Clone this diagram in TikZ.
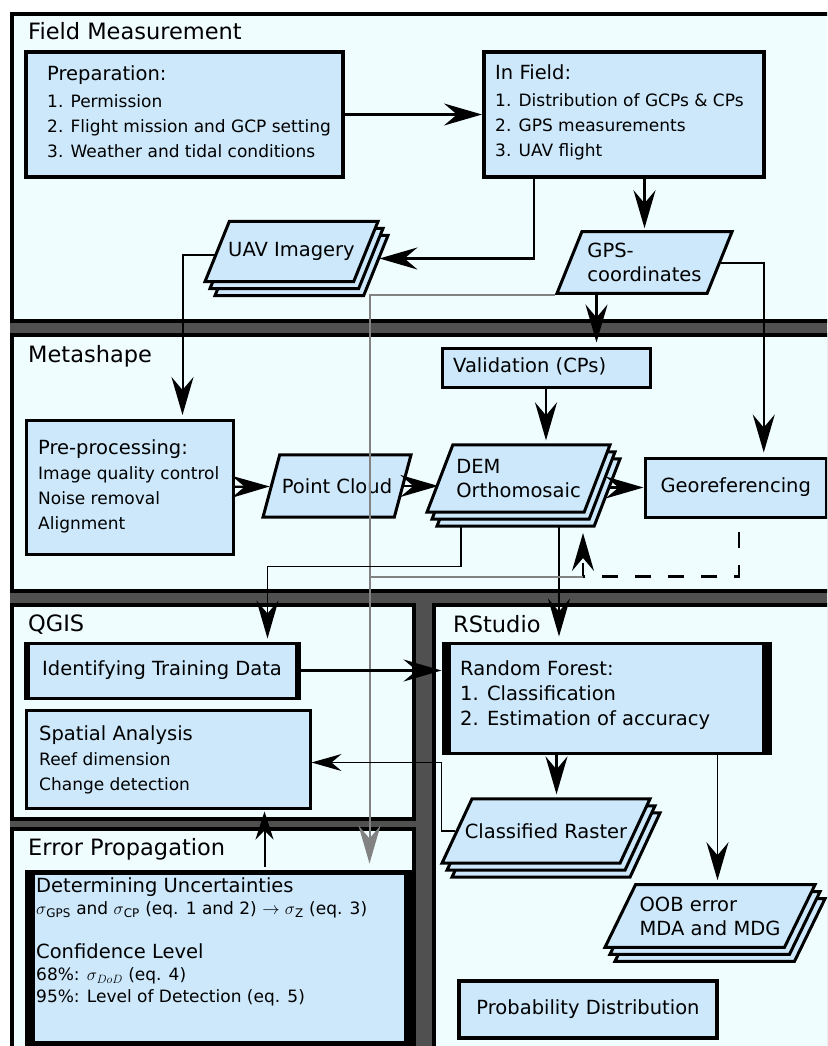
\documentclass[tikz,border=0pt]{standalone}
\usepackage{fontspec}
\setmainfont{DejaVu Sans}
\usetikzlibrary{arrows.meta,shapes.geometric,shadows}
\definecolor{panelbg}{RGB}{240,253,255}
\definecolor{boxbg}{RGB}{204,232,250}
\definecolor{bandgray}{RGB}{80,80,80}
\definecolor{linegray}{RGB}{130,130,130}
\tikzset{
  panel/.style={draw=black, line width=4pt, fill=panelbg},
  paneltitle/.style={anchor=base west, inner sep=0pt, font=\fontsize{22.5}{27}\selectfont},
  box/.style={draw=black, line width=3pt, fill=boxbg, inner sep=0pt, anchor=north west, font=\fontsize{19.5}{25}\selectfont},
  boxtext/.style={anchor=west, inner sep=0pt, align=left, font=\fontsize{17}{25}\selectfont},
  sidebars/.style={path picture={
    \fill[black] (path picture bounding box.south west) rectangle ([xshift=#1]path picture bounding box.north west);
    \fill[black] (path picture bounding box.south east) rectangle ([xshift=-#1]path picture bounding box.north east);}},
  para/.style 2 args={trapezium, trapezium left angle=#1, trapezium right angle=#2,
    trapezium stretches=true, trapezium stretches body=true,
    draw=black, line width=3pt, fill=boxbg, inner xsep=0pt, align=left, font=\fontsize{19.5}{24}\selectfont},
  stack/.style={double copy shadow={shadow xshift=5pt, shadow yshift=-7pt}},
  arr/.style={-{Stealth[length=38pt,width=22pt,inset=13pt]}, line width=2.2pt},
  arrthin/.style={-{Stealth[length=30pt,width=17pt,inset=10pt]}, line width=1.6pt},
  grayline/.style={draw=linegray, line width=2pt}
}
\begin{document}
\begin{tikzpicture}[x=1pt, y=-1pt]
\clip (0,0) rectangle (827,1046);
\fill[white] (0,0) rectangle (827,1046);
\fill[bandgray] (10,319) rectangle (840,1050);
\draw[panel] (12,14) rectangle (840,321);
\draw[panel] (12,335) rectangle (840,591);
\draw[panel] (12,605) rectangle (414,818.5);
\draw[panel] (12,828.5) rectangle (414,1060);
\draw[panel] (434,605) rectangle (840,1060);

\node[paneltitle] (fieldtitle) at (28,40) {Field Measurement};
\node[paneltitle] (metatitle) at (28,362.5) {Metashape};
\node[paneltitle] (qgistitle) at (28,631.5) {QGIS};
\node[paneltitle] (errortitle) at (28,855.5) {Error Propagation};
\node[paneltitle] (rtitle) at (453,632) {RStudio};

\node[box, line width=4pt, minimum width=317, minimum height=125] (prep) at (24,50) {};
\node[boxtext] (prep-t) at (47,112) {{\fontsize{19.5}{25}\selectfont Preparation:}\\[2pt]1. Permission\\2. Flight mission and GCP setting\\3. Weather and tidal conditions};
\node[box, line width=4pt, minimum width=280, minimum height=125] (infield) at (482,50) {};
\node[boxtext] (infield-t) at (495,112) {{\fontsize{19.5}{25}\selectfont In Field:}\\[2pt]1. Distribution of GCPs \& CPs\\2. GPS measurements\\3. UAV flight};

\node[para={68}{112}, stack, inner xsep=-2pt, inner ysep=21pt, minimum width=173] (uav) at (291.5,251.5) {UAV Imagery};
\node[para={68}{112}, inner ysep=11.4pt, minimum width=175] (gps) at (644.5,262.5) {GPS-\\coordinates};

\node[box, minimum width=208, minimum height=39] (validation) at (440.5,346.5) {};
\node[boxtext, font=\fontsize{19.5}{25}\selectfont] (validation-t) at (453,366) {Validation (CPs)};
\node[box, minimum width=207, minimum height=134] (preproc) at (25,419) {};
\node[boxtext] (preproc-t) at (38,486) {{\fontsize{19.5}{25}\selectfont Pre-processing:}\\Image quality control\\Noise removal\\Alignment};
\node[para={75}{105}, inner ysep=23.6pt, minimum width=148] (pointcloud) at (337,486) {Point Cloud};
\node[para={69}{111}, stack, inner ysep=14.4pt, minimum width=183] (dem) at (518.5,478.5) {DEM\\Orthomosaic};
\node[box, minimum width=181.5, minimum height=59] (georef) at (643.5,456.5) {Georeferencing};

\node[box, sidebars=4.5pt, minimum width=274, minimum height=55] (ident) at (23.5,641.5) {Identifying Training Data};
\node[box, minimum width=284, minimum height=98] (spatial) at (24.5,708.5) {};
\node[boxtext] (spatial-t) at (39,760) {{\fontsize{19.5}{25}\selectfont Spatial Analysis}\\Reef dimension\\Change detection};

\node[box, sidebars=8pt, minimum width=327, minimum height=110] (rf) at (441.5,641.5) {};
\node[boxtext, font=\fontsize{19.5}{25}\selectfont] (rf-t) at (460,695) {Random Forest:\\1. Classification\\2. Estimation of accuracy};
\node[para={65}{115}, stack, inner xsep=-7.5pt, inner ysep=24.6pt, minimum width=208] (classified) at (546,831) {Classified Raster};
\node[para={64}{116}, stack, inner ysep=11.9pt, minimum width=210] (oob) at (710,916) {OOB error\\MDA and MDG};
\node[box, line width=4pt, minimum width=258, minimum height=57] (prob) at (457,979) {Probability Distribution};

\node[box, line width=5pt, sidebars=7.5pt, minimum width=384, minimum height=171] (det) at (24.5,869.5) {};
\node[boxtext, font=\fontsize{17}{22}\selectfont] (det-t) at (36,942) {{\fontsize{19.5}{22}\selectfont Determining Uncertainties}\\$\sigma$\textsubscript{GPS} and $\sigma$\textsubscript{CP} (eq. 1 and 2) $\rightarrow$ $\sigma$\textsubscript{Z} (eq. 3)\\[22pt]{\fontsize{19.5}{22}\selectfont Confidence Level}\\68\%: $\sigma_{DoD}$ (eq. 4)\\95\%: Level of Detection (eq. 5)};

\draw[arr] (prep) -- (infield);
\draw[arr] (gps.center |- infield.south) -- ([yshift=2pt]gps.center |- gps.north);
\draw[arr] ([xshift=-90pt]infield.south) |- ([xshift=12pt,yshift=-7pt]uav.right side);
\draw[arr, line width=2pt] ([yshift=-3pt]uav.left side) -| ([xshift=52.5pt,yshift=4pt]preproc.north);
\draw[grayline, -{Stealth[length=38pt,width=22pt,inset=13pt]}] (gps.bottom left corner) -| ([xshift=150.5pt,yshift=6pt]det.north);
\draw[arr] ([xshift=50.5pt]validation.north |- gps.south) -- ([xshift=50.5pt,yshift=4pt]validation.north);
\draw[arr, line width=2pt] (gps.right side) -| ([xshift=28pt,yshift=4pt]georef.north);
\draw[arr] (validation.south) -- ([yshift=3pt]validation.south |- dem.north);
\draw[arr] (preproc) -- (pointcloud);
\draw[arr] (pointcloud.right side) -- (pointcloud.right side -| dem.left side);
\draw[arr] ([xshift=9pt]dem.right side |- georef.west) -- (georef.west);
\draw[arr] ([xshift=40.5pt,yshift=-47.5pt]dem.center) -- ([xshift=40.5pt,yshift=5pt]dem.center |- rf.north);
\draw[arr, line width=1.8pt] ([xshift=-57.5pt,yshift=-48pt]dem.center) -- ++(0,40) -| ([xshift=105.5pt,yshift=3pt]ident.north);
\draw[arr, dash pattern=on 16pt off 17pt] ([xshift=3pt,yshift=-13.5pt]georef.south) -- ++(0,44.5) coordinate (fb) -| ([xshift=64.5pt,yshift=-54.5pt]dem.center);
\draw[grayline] ([xshift=150.5pt]det.north |- fb) -- ([xshift=64.5pt]dem.center |- fb);
\draw[arr] (ident.east) -- (ident.east -| rf.west);
\draw[arr] ([xshift=-50pt]rf.south) -- ([xshift=-50pt,yshift=3pt]rf.south |- classified.north);
\draw[arr, line width=1.8pt] ([xshift=111pt]rf.south) -- ([xshift=111pt,yshift=3pt]rf.south |- oob.north);
\draw[arrthin] (classified.left side) -- ++(-14,0) |- ([yshift=-3.5pt]spatial.east);
\draw[arr, line width=2pt, -{Stealth[length=28pt,width=18pt,inset=9pt]}] ([xshift=45.5pt,yshift=3pt]det.north) -- ([xshift=45.5pt,yshift=-2pt]det.north |- spatial.south);
\end{tikzpicture}
\end{document}
